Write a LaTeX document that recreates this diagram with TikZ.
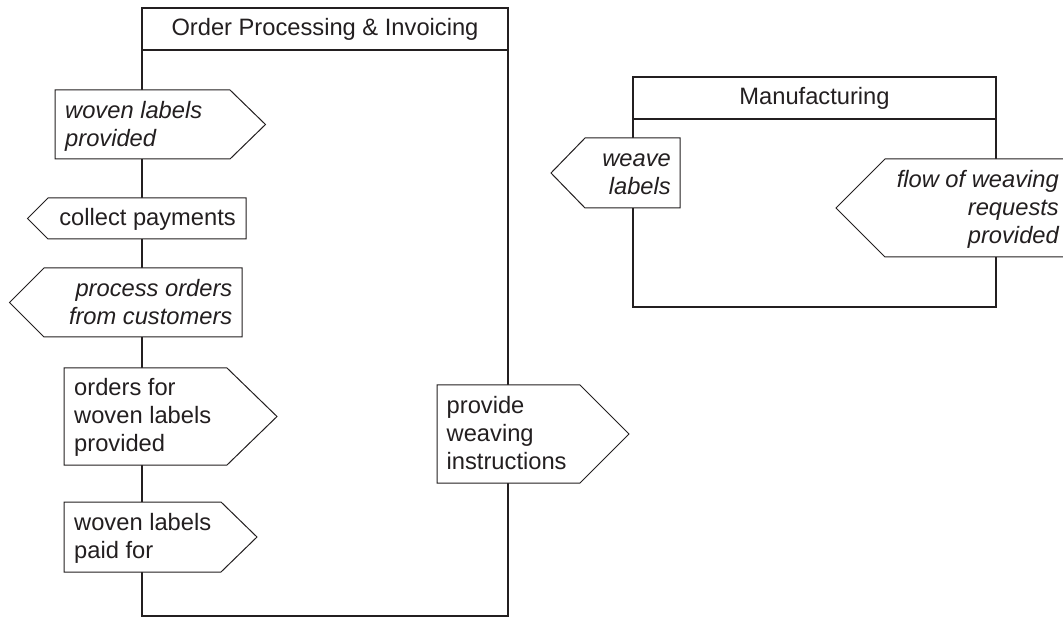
\documentclass[tikz,border=0pt]{standalone}
\usepackage{fontspec}
\setmainfont{Liberation Sans}
\definecolor{ink}{RGB}{35,31,32}
\begin{document}
\begin{tikzpicture}[x=1pt,y=-1pt,
  lane/.style={draw=ink,line width=2.9pt},
  post/.style={draw=ink,fill=white,line width=1pt,line join=miter},
  lbl/.style={inner sep=0pt,text=ink,font=\fontsize{23.7}{28}\selectfont},
  itl/.style={font=\fontsize{23.7}{28}\selectfont\itshape},
  lblL/.style={lbl,anchor=north west,align=left},
  lblR/.style={lbl,anchor=north east,align=right},
  title/.style={lbl,anchor=base}]
\useasboundingbox (0,0) rectangle (1063,617);

% Order Processing & Invoicing lane
\draw[lane] (142,8) rectangle (508,616);
\draw[lane] (142,50) -- (508,50);
\node[title] (opTitle) at (325,36) {Order Processing \& Invoicing};

% Manufacturing lane
\draw[lane] (633,77) rectangle (996,307);
\draw[lane] (633,119) -- (996,119);
\node[title] (mfTitle) at (814.5,105) {Manufacturing};

% signposts on the left border of Order Processing
\draw[post] (55,90) -- (230,90) -- (265.5,124.5) -- (230,159) -- (55,159) -- cycle;
\node[lblL,itl] (wovenProvided) at (65,98.4) {\strut woven labels\\provided};

\draw[post] (246,198) -- (48,198) -- (27.5,218.5) -- (48,239) -- (246,239) -- cycle;
\node[lblR] (collect) at (236,205.9) {\strut collect payments};

\draw[post] (242,268) -- (44,268) -- (9.5,302.5) -- (44,337) -- (242,337) -- cycle;
\node[lblR,itl] (processOrders) at (232.5,276.4) {\strut process orders\\from customers};

\draw[post] (64,368) -- (227,368) -- (277,416.5) -- (227,465) -- (64,465) -- cycle;
\node[lblL] (ordersFor) at (74,375.9) {\strut orders for\\woven labels\\provided};

\draw[post] (64,502) -- (221,502) -- (257,537) -- (221,572) -- (64,572) -- cycle;
\node[lblL] (paidFor) at (74,510.4) {\strut woven labels\\paid for};

% signpost on the right border of Order Processing
\draw[post] (437,385) -- (580,385) -- (629,434) -- (580,483) -- (437,483) -- cycle;
\node[lblL] (instructions) at (446.5,393.4) {\strut provide\\weaving\\instructions};

% signposts on the Manufacturing borders
\draw[post] (680,138) -- (585,138) -- (551,173) -- (585,208) -- (680,208) -- cycle;
\node[lblR,itl] (weave) at (671,146.4) {\strut weave\\labels};

\draw[post] (1072,159) -- (885,159) -- (836,208) -- (885,257) -- (1072,257) -- cycle;
\node[lblR,itl] (requests) at (1059,167.4) {\strut flow of weaving\\requests\\provided};
\end{tikzpicture}
\end{document}
